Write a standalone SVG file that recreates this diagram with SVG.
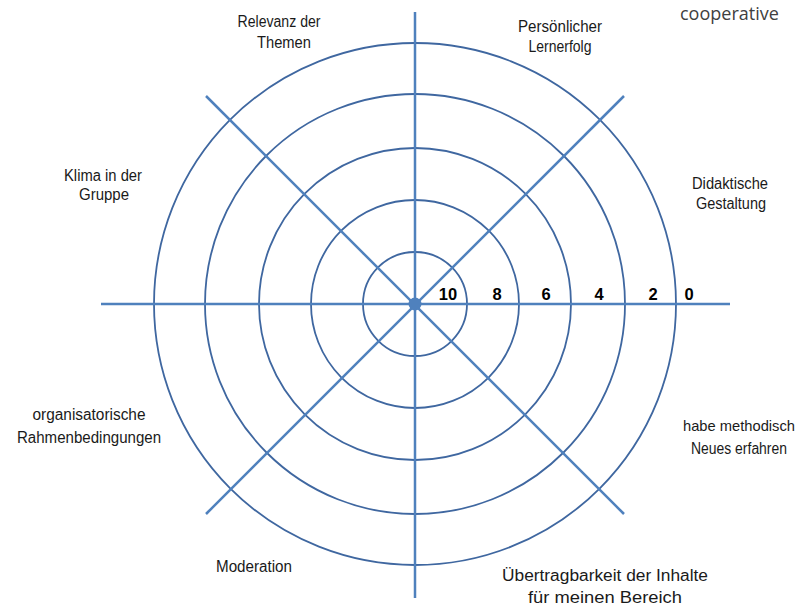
<svg xmlns="http://www.w3.org/2000/svg" width="804" height="608" viewBox="0 0 804 608">
<style>
.ring{fill:none;stroke:#3F67A0;stroke-width:1.8}
.axis{stroke:#4F81BD;stroke-width:2.5;stroke-linecap:butt}
.lbl{font-family:"Liberation Sans",Arial,sans-serif;font-size:16px;fill:#1a1a1a;text-anchor:middle}
.num{font-family:"Liberation Sans",Arial,sans-serif;font-size:16.5px;font-weight:bold;fill:#000;text-anchor:middle}
</style>
<rect width="804" height="608" fill="#ffffff"/>
<g id="rings">
<circle class="ring" cx="415" cy="304" r="52"/>
<circle class="ring" cx="415" cy="304" r="104"/>
<circle class="ring" cx="415" cy="304" r="156"/>
<circle class="ring" cx="415" cy="304" r="210"/>
<circle class="ring" cx="415" cy="304" r="261"/>
</g>
<g id="connectors">
<line class="axis" x1="101" y1="304" x2="730" y2="304"/>
<line class="axis" x1="415" y1="12" x2="415" y2="598"/>
<line class="axis" x1="206" y1="96" x2="624" y2="514"/>
<line class="axis" x1="624" y1="96" x2="206" y2="514"/>
</g>
<g id="center"><circle cx="415" cy="304" r="6.5" fill="#4F81BD"/></g>
<g id="scale">
<text class="num" x="448" y="300">10</text>
<text class="num" x="497" y="300">8</text>
<text class="num" x="546" y="300">6</text>
<text class="num" x="599" y="300">4</text>
<text class="num" x="653" y="300">2</text>
<text class="num" x="689" y="300">0</text>
</g>
<g id="relevanz"><text class="lbl" x="279" y="27" textLength="83" lengthAdjust="spacingAndGlyphs">Relevanz der</text><text class="lbl" x="284" y="48" textLength="54" lengthAdjust="spacingAndGlyphs">Themen</text></g>
<g id="persoenlich"><text class="lbl" x="560" y="32" textLength="84" lengthAdjust="spacingAndGlyphs">Persönlicher</text><text class="lbl" x="560" y="52" textLength="63" lengthAdjust="spacingAndGlyphs">Lernerfolg</text></g>
<g id="klima"><text class="lbl" x="103" y="181" textLength="78" lengthAdjust="spacingAndGlyphs">Klima in der</text><text class="lbl" x="104" y="200" textLength="50" lengthAdjust="spacingAndGlyphs">Gruppe</text></g>
<g id="didaktik"><text class="lbl" x="730" y="189" textLength="76" lengthAdjust="spacingAndGlyphs">Didaktische</text><text class="lbl" x="731" y="209" textLength="70" lengthAdjust="spacingAndGlyphs">Gestaltung</text></g>
<g id="organisatorisch"><text class="lbl" x="89" y="420" textLength="113" lengthAdjust="spacingAndGlyphs">organisatorische</text><text class="lbl" x="89" y="443" textLength="144" lengthAdjust="spacingAndGlyphs">Rahmenbedingungen</text></g>
<g id="methodisch"><text class="lbl" x="739" y="431" font-size="15" style="font-size:15px" textLength="112" lengthAdjust="spacingAndGlyphs">habe methodisch</text><text class="lbl" x="739" y="454" textLength="96" lengthAdjust="spacingAndGlyphs">Neues erfahren</text></g>
<g id="moderation"><text class="lbl" x="254" y="572" textLength="76" lengthAdjust="spacingAndGlyphs">Moderation</text></g>
<g id="uebertrag"><text class="lbl" x="605" y="581" textLength="206" lengthAdjust="spacingAndGlyphs">Übertragbarkeit der Inhalte</text><text class="lbl" x="605" y="603" textLength="154" lengthAdjust="spacingAndGlyphs">für meinen Bereich</text></g>
<text x="680" y="20" font-family="'Open Sans',sans-serif" font-size="18" fill="#404040">cooperative</text>
</svg>
